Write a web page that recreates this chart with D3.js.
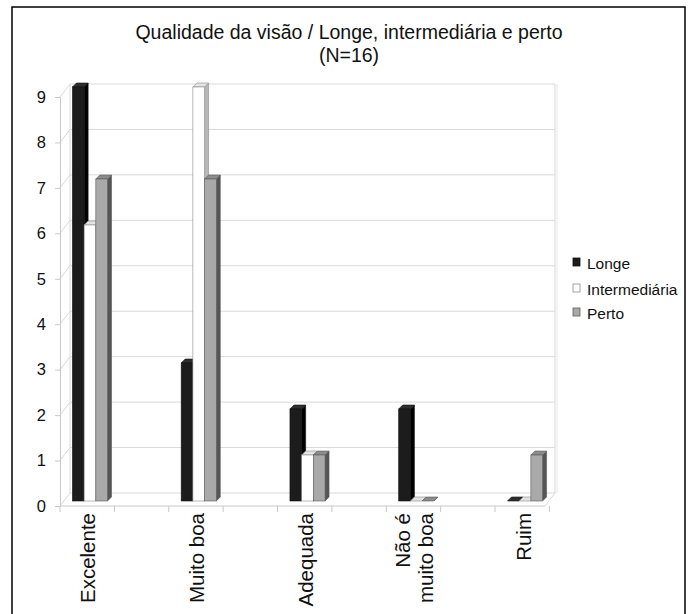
<!DOCTYPE html>
<html>
<head>
<meta charset="utf-8">
<script src="https://cdn.jsdelivr.net/npm/d3@7"></script>
<style>
  html, body { margin: 0; padding: 0; background: #fff; }
  svg { display: block; }
  text { font-family: "Liberation Sans", Arial, sans-serif; fill: #111; }
</style>
</head>
<body>
<svg id="chart" width="690" height="614"></svg>
<script>
// ---- data ----
const categories = ["Excelente", "Muito boa", "Adequada", "Não é\nmuito boa", "Ruim"];
const seriesNames = ["Longe", "Intermediária", "Perto"];
const longe = [9, 3, 2, 2, 0];
const intermediaria = [6, 9, 1, 0, 0];
const perto = [7, 7, 1, 0, 1];
const yTicks = [0, 1, 2, 3, 4, 5, 6, 7, 8, 9];
const titleLines = ["Qualidade da visão / Longe, intermediária e perto", "(N=16)"];

const seriesValues = [longe, intermediaria, perto];
const styles = [
  { front: "#1c1c1c", top: "#2e2e2e", side: "#000000", stroke: "#111" },
  { front: "#ffffff", top: "#e4e4e4", side: "#b8b8b8", stroke: "#8a8a8a" },
  { front: "#a9a9a9", top: "#8c8c8c", side: "#555555", stroke: "#5a5a5a" }
];

const svg = d3.select("#chart");

// frame
svg.append("rect").attr("x", 12).attr("y", 7).attr("width", 673).attr("height", 625)
  .attr("fill", "none").attr("stroke", "#000").attr("stroke-width", 1.5);

// title
svg.selectAll("text.title").data(titleLines).join("text")
  .attr("class", "title")
  .attr("x", 349).attr("y", (d, i) => 39 + i * 23)
  .attr("text-anchor", "middle")
  .style("font-size", "19.5px")
  .text(d => d);

// ---- geometry ----
const axisX = 60;
const wallDx = 10, wallDy = -13;
const wallRight = 555;
const yAxisScale = d3.scaleLinear().domain([0, 9]).range([506, 97]);
const yBar = d3.scaleLinear().domain([0, 9]).range([501, 87]);
const x = d3.scaleBand().domain(categories).range([35.6, 579.4]);
const barW = 11.7;
const depth = { dx: 4, dy: 4 };

const grid = svg.append("g").attr("stroke", "#d9d9d9").attr("fill", "none").attr("stroke-width", 1);

// gridlines: side diagonal + back wall horizontal
grid.selectAll("line.diag").data(yTicks).join("line")
  .attr("x1", axisX).attr("y1", d => yAxisScale(d))
  .attr("x2", axisX + wallDx).attr("y2", d => yAxisScale(d) + wallDy);
grid.selectAll("line.h").data(yTicks).join("line")
  .attr("x1", axisX + wallDx).attr("y1", d => yAxisScale(d) + wallDy)
  .attr("x2", wallRight).attr("y2", d => yAxisScale(d) + wallDy);
// back wall left & right edges
grid.append("line").attr("x1", axisX + wallDx).attr("x2", axisX + wallDx)
  .attr("y1", yAxisScale(9) + wallDy).attr("y2", yAxisScale(0) + wallDy);
grid.append("line").attr("x1", wallRight).attr("x2", wallRight)
  .attr("y1", yAxisScale(9) + wallDy).attr("y2", yAxisScale(0) + wallDy);
grid.append("line").attr("x1", wallRight + 2).attr("x2", wallRight + 2)
  .attr("y1", yAxisScale(9) + wallDy).attr("y2", yAxisScale(0) + wallDy).attr("stroke", "#e8e8e8");
// floor front edge and right edge
grid.append("line").attr("x1", axisX).attr("x2", wallRight - wallDx)
  .attr("y1", yAxisScale(0)).attr("y2", yAxisScale(0)).attr("stroke", "#c8c8c8");
grid.append("line").attr("x1", wallRight - wallDx).attr("x2", wallRight)
  .attr("y1", yAxisScale(0)).attr("y2", yAxisScale(0) + wallDy);
// category ticks below floor
const tickXs = d3.range(0, 10).map(k => axisX + k * (x.step() / 2));
grid.selectAll("line.ct").data(tickXs).join("line")
  .attr("stroke", "#c8c8c8")
  .attr("x1", d => d).attr("x2", d => d)
  .attr("y1", yAxisScale(0)).attr("y2", yAxisScale(0) + 6);

// y axis
const yAxis = d3.axisLeft(yAxisScale).tickValues(yTicks).tickSize(5).tickPadding(9).tickFormat(d3.format("d"));
const ga = svg.append("g").attr("transform", `translate(${axisX},0)`).call(yAxis);
ga.select(".domain").attr("stroke", "#c8c8c8");
ga.selectAll(".tick line").attr("stroke", "#c8c8c8");
ga.selectAll(".tick text").style("font-size", "16.5px").style("font-family", "Liberation Sans, Arial, sans-serif").attr("fill", "#111");

// ---- bars ----
const barData = [];
categories.forEach((c, ci) => {
  seriesValues.forEach((vals, si) => {
    barData.push({ cat: c, si, v: vals[ci] });
  });
});
const offsets = [-1.5 * barW, -0.5 * barW, 0.5 * barW];

const bars = svg.append("g").selectAll("g.bar").data(barData).join("g").attr("class", "bar");
bars.each(function(d) {
  const g = d3.select(this);
  const st = styles[d.si];
  const xl = x(d.cat) + x.bandwidth() / 2 + offsets[d.si];
  const yb = yBar(0), yt = yBar(d.v);
  const { dx, dy } = depth;
  // side
  g.append("polygon")
    .attr("points", [[xl + barW, yt], [xl + barW + dx, yt - dy], [xl + barW + dx, yb - dy], [xl + barW, yb]].map(p => p.join(",")).join(" "))
    .attr("fill", st.side).attr("stroke", st.stroke).attr("stroke-width", 0.6);
  // top
  g.append("polygon")
    .attr("points", [[xl, yt], [xl + dx, yt - dy], [xl + barW + dx, yt - dy], [xl + barW, yt]].map(p => p.join(",")).join(" "))
    .attr("fill", st.top).attr("stroke", st.stroke).attr("stroke-width", 0.6);
  // front
  if (d.v > 0) {
    g.append("rect").attr("x", xl).attr("y", yt).attr("width", barW).attr("height", yb - yt)
      .attr("fill", st.front).attr("stroke", st.stroke).attr("stroke-width", 0.6);
  }
});

// ---- category labels ----
const catG = svg.append("g");
categories.forEach(c => {
  const lines = c.split("\n");
  const cx = x(c) + x.bandwidth() / 2;
  const lh = 23;
  lines.forEach((ln, li) => {
    const px = cx + (li - (lines.length - 1) / 2) * lh + 5.5;
    catG.append("text")
      .attr("transform", `translate(${px},513) rotate(-90)`)
      .attr("text-anchor", "end")
      .style("font-size", "20.5px")
      .text(ln);
  });
});

// ---- legend ----
const legend = svg.append("g");
const legY = [263, 289, 313];
seriesNames.forEach((n, i) => {
  legend.append("rect").attr("x", 573).attr("y", legY[i] - 5).attr("width", 7).attr("height", 8)
    .attr("fill", styles[i].front).attr("stroke", styles[i].stroke).attr("stroke-width", 0.8);
  legend.append("text").attr("x", 587).attr("y", legY[i] + 5.5)
    .style("font-size", "15.5px")
    .text(n);
});
</script>
</body>
</html>
